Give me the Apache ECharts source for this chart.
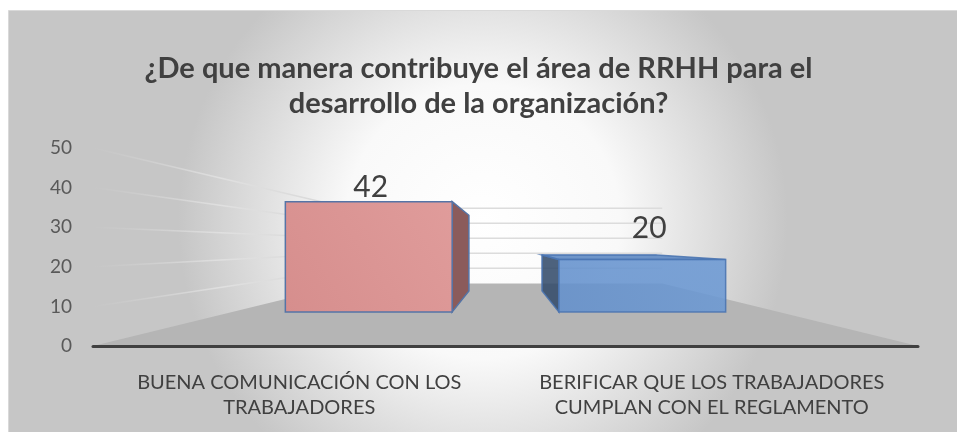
<!DOCTYPE html>
<html>
<head>
<meta charset="utf-8">
<script src="https://cdn.jsdelivr.net/npm/echarts@6/dist/echarts.min.js"></script>
<style>
  html, body { margin: 0; padding: 0; background: #fff; }
  #main { width: 957px; height: 432px; }
</style>
</head>
<body>
<div id="main"></div>
<script>
// data
const titleText = "¿De que manera contribuye el área de RRHH para el\ndesarrollo de la organización?";
const categories = [
  "BUENA COMUNICACIÓN CON LOS\nTRABAJADORES",
  "BERIFICAR QUE LOS TRABAJADORES\nCUMPLAN CON EL REGLAMENTO"
];
const values = [42, 20];
const yTicks = [0, 10, 20, 30, 40, 50];

// look of the fake 3d box
const barFront = ["#d68e8d", "#6390cc"];
const barFront2 = ["#e09c9b", "#6d9ad4"];
const barSide = ["#8b5b5b", "#344c6b"];
const barTop = ["#e8a9a8", "#5a86c2"];
const barEdge = ["#5574a6", "#4a74b0"];
const barOpacity = [1, 0.88];
const HORIZON = 25.5;      // value level of the eye
const WALL_DEPTH = 0.62;   // 0 = front plane, 1 = vanishing point
const BAR_T1 = 0.337;
const BAR_T2 = 0.545;
const BAR_WIDTH = 0.61;

function project(p, t, vp) {
  return [p[0] + t * (vp[0] - p[0]), p[1] + t * (vp[1] - p[1])];
}

function sceneInfo(api) {
  const a = api.coord([0, 0]);
  const b = api.coord([1, 0]);
  const band = b[0] - a[0];
  return {
    left: a[0] - band / 2,
    right: b[0] + band / 2,
    band: band,
    y0: a[1],
    vp: [(a[0] + b[0]) / 2, api.coord([0, HORIZON])[1]]
  };
}

function renderScene(params, api) {
  const s = sceneInfo(api);
  const kids = [];
  const fl = [s.left, s.y0], fr = [s.right, s.y0];
  kids.push({
    type: "polygon",
    shape: { points: [fl, fr, project(fr, WALL_DEPTH, s.vp), project(fl, WALL_DEPTH, s.vp)] },
    style: { fill: "#b5b5b5" }
  });
  yTicks.forEach(function (v) {
    if (v === 0) return;
    const y = api.coord([0, v])[1];
    const p1 = [s.left, y];
    const p2 = project(p1, WALL_DEPTH, s.vp);
    const p3 = project([s.right, y], WALL_DEPTH, s.vp);
    kids.push({
      type: "line",
      shape: { x1: p1[0], y1: p1[1], x2: p2[0], y2: p2[1] },
      style: {
        lineWidth: 1.5,
        stroke: new echarts.graphic.LinearGradient(0, 0, 1, 0, [
          { offset: 0, color: "rgba(215,215,215,0)" },
          { offset: 0.5, color: "rgba(225,225,225,0.9)" },
          { offset: 1, color: "#d6d6d6" }
        ])
      }
    });
    kids.push({
      type: "line",
      shape: { x1: p2[0], y1: p2[1], x2: p3[0], y2: p3[1] },
      style: { stroke: "#dcdcdc", lineWidth: 1.5 }
    });
  });
  return { type: "group", children: kids };
}

function renderBar(params, api) {
  const i = api.value(0);
  const v = api.value(1);
  const s = sceneInfo(api);
  const base = api.coord([i, 0]);
  const top = api.coord([i, v]);
  const half = s.band * BAR_WIDTH / 2;
  const TL = [base[0] - half, top[1]], TR = [base[0] + half, top[1]];
  const BL = [base[0] - half, base[1]], BR = [base[0] + half, base[1]];
  const f = [TL, TR, BR, BL].map(function (p) { return project(p, BAR_T1, s.vp); });
  const b = [TL, TR, BR, BL].map(function (p) { return project(p, BAR_T2, s.vp); });
  const op = barOpacity[i];
  const edge = { stroke: barEdge[i], lineWidth: 1.5 };
  const kids = [];
  // back edges (seen through when see-through)
  if (op < 1) {
    kids.push({
      type: "polyline",
      shape: { points: [b[3], b[0], b[1]] },
      style: { stroke: barEdge[i], lineWidth: 1, fill: null, opacity: 0.6 }
    });
  }
  const rightSide = base[0] < s.vp[0];
  const side = rightSide ? [f[1], b[1], b[2], f[2]] : [f[0], b[0], b[3], f[3]];
  kids.push({
    type: "polygon",
    shape: { points: side },
    style: Object.assign({ fill: barSide[i], opacity: op }, edge)
  });
  if (f[0][1] > s.vp[1]) {
    kids.push({
      type: "polygon",
      shape: { points: [f[0], f[1], b[1], b[0]] },
      style: Object.assign({ fill: barTop[i], opacity: op }, edge)
    });
  }
  kids.push({
    type: "polygon",
    shape: { points: f },
    style: Object.assign({
      fill: new echarts.graphic.LinearGradient(0, 1, 1, 0, [
        { offset: 0, color: barFront[i] },
        { offset: 1, color: barFront2[i] }
      ]),
      opacity: op
    }, edge)
  });
  // value label, sits over the highest visible top edge
  const topVisible = f[0][1] > s.vp[1];
  const labelY = Math.min(f[0][1], b[0][1]) - 14 - (topVisible ? 13 : 0);
  kids.push({
    type: "text",
    style: {
      text: String(v),
      x: (f[0][0] + f[1][0]) / 2 + (topVisible ? 7 : 2),
      y: labelY,
      align: "center",
      verticalAlign: "middle",
      fontFamily: "Lato",
      fontSize: 30,
      fill: "#404040"
    }
  });
  return { type: "group", children: kids };
}

const chart = echarts.init(document.getElementById("main"));

chart.setOption({
  animation: false,
  graphic: [{
    type: "rect",
    left: 8, top: 10,
    shape: { width: 949, height: 422 },
    style: {
      fill: new echarts.graphic.RadialGradient(0.5, 0.5, 0.72, [
        { offset: 0, color: "#ffffff" },
        { offset: 0.45, color: "#f9f9f9" },
        { offset: 1, color: "#c6c6c6" }
      ]),
      stroke: "#d9d9d9",
      lineWidth: 1
    },
    z: -10
  }],
  title: {
    text: titleText,
    left: "center",
    top: 46,
    textStyle: {
      fontFamily: "Lato",
      fontWeight: "bold",
      fontSize: 29,
      lineHeight: 35,
      color: "#404040"
    }
  },
  grid: { left: 93, right: 39, top: 148, bottom: 86 },
  xAxis: {
    type: "category",
    data: categories,
    axisLine: { lineStyle: { color: "#404040", width: 3 } },
    axisTick: { show: false },
    axisLabel: {
      interval: 0,
      margin: 24,
      fontFamily: "Lato",
      fontSize: 20,
      lineHeight: 25,
      color: "#404040"
    },
    z: 10
  },
  yAxis: {
    type: "value",
    min: yTicks[0],
    max: yTicks[yTicks.length - 1],
    interval: 10,
    axisLine: { show: false },
    axisTick: { show: false },
    splitLine: { show: false },
    axisLabel: {
      margin: 21,
      fontFamily: "Lato",
      fontSize: 19,
      color: "#595959"
    }
  },
  series: [
    {
      type: "custom",
      renderItem: renderScene,
      data: [[0, 0]],
      silent: true,
      z: 1
    },
    {
      type: "custom",
      renderItem: renderBar,
      data: values.map(function (v, i) { return [i, v]; }),
      z: 2
    }
  ]
});
</script>
</body>
</html>
